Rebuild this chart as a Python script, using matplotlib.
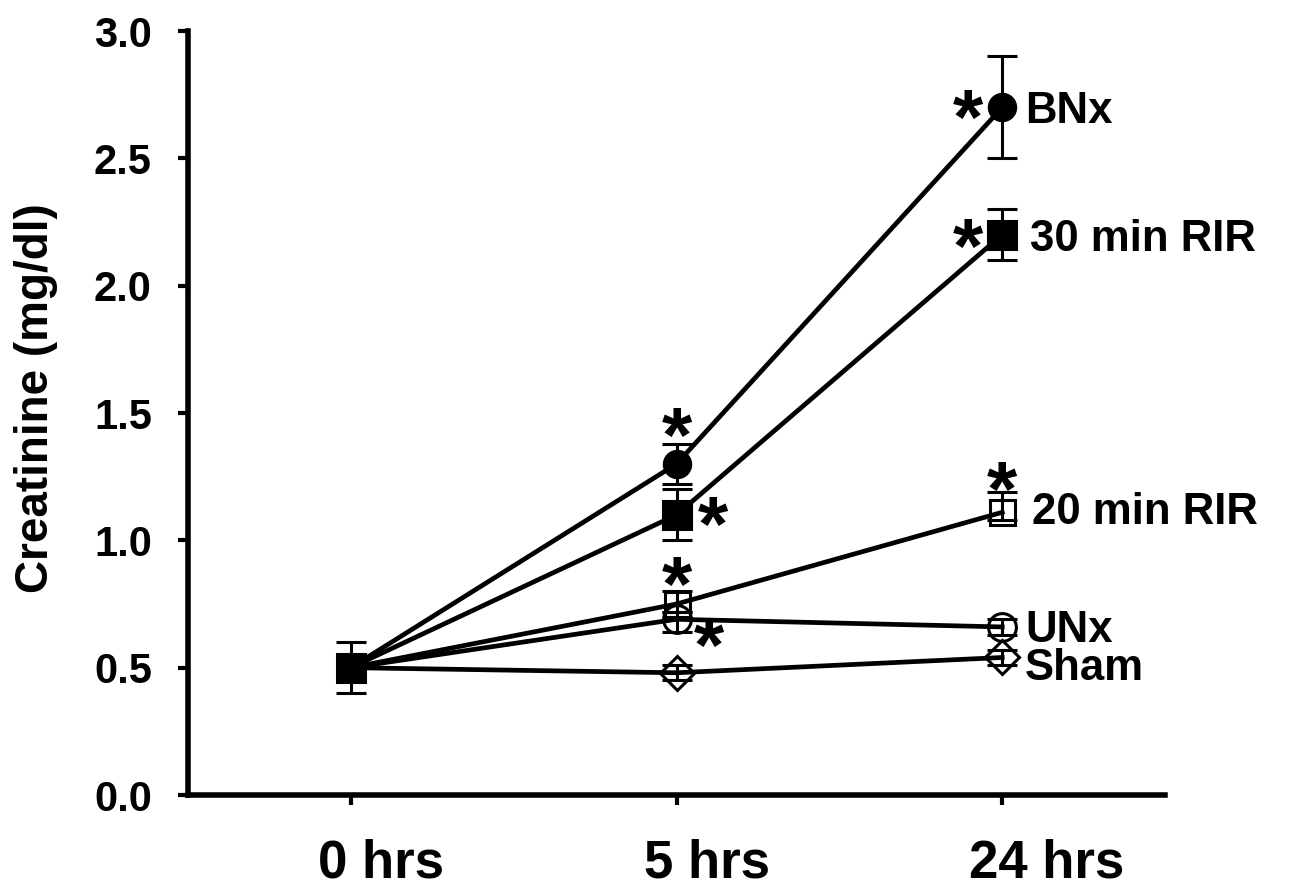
import matplotlib
matplotlib.use("Agg")
import matplotlib.pyplot as plt
from matplotlib.transforms import ScaledTranslation

plt.rcParams["font.family"] = ["Liberation Sans", "DejaVu Sans"]
plt.rcParams["font.weight"] = "bold"

# time points and tick labels
times = [0, 1, 2]
time_labels = ["0 hrs", "5 hrs", "24 hrs"]

# creatinine (mg/dl) per group
bnx = [0.5, 1.3, 2.7]
bnx_err = [0.05, 0.08, 0.2]
rir30 = [0.5, 1.1, 2.2]
rir30_err = [0.1, 0.1, 0.1]
rir20 = [0.5, 0.75, 1.11]
rir20_lo = [0.05, 0.03, 0.03]
rir20_hi = [0.05, 0.05, 0.08]
unx = [0.5, 0.69, 0.66]
unx_lo = [0.05, 0.05, 0.03]
unx_hi = [0.05, 0.03, 0.03]
sham = [0.5, 0.48, 0.54]
sham_err = [0.03, 0.03, 0.03]

fig = plt.figure(figsize=(13.07, 8.86), dpi=100)
ax = fig.add_axes([0.1438, 0.1027, 0.7476, 0.8623])

common = dict(color="black", lw=3.4, ecolor="black", elinewidth=2.2,
              capsize=11, capthick=2.2, mew=2.2)
# at 0 hrs every group sits under the 30 min RIR square
later = [1, 2]

ax.errorbar(times, sham, yerr=sham_err, marker="D", ms=17, mfc="none",
            markevery=later, **common)
ax.errorbar(times, unx, yerr=[unx_lo, unx_hi], marker="o", ms=20, mfc="none",
            markevery=later, **common)
ax.errorbar(times, rir20, yerr=[rir20_lo, rir20_hi], marker="s", ms=18, mfc="none",
            markevery=later, **common)
ax.errorbar(times, bnx, yerr=bnx_err, marker="o", ms=19, mfc="black",
            markevery=later, **common)
ax.errorbar(times, rir30, yerr=rir30_err, marker="s", ms=19.5, mfc="black", **common)

# series labels at the 24 h end
labels = [("BNx", bnx, 16.5, 0), ("30 min RIR", rir30, 20, 0),
          ("20 min RIR", rir20, 21.5, 3), ("UNx", unx, 16.5, 0.5),
          ("Sham", sham, 16.5, -4.5)]
for text, ys, dx, dy in labels:
    ax.annotate(text, (times[2], ys[2]), xytext=(dx, dy), textcoords="offset points",
                ha="left", va="center_baseline", fontsize=31.5, fontweight="bold")

# significance stars (offsets in points of the star centre)
STAR_FS = 56


def star(x, y, dx, dy):
    ax.annotate("*", (x, y), xytext=(dx, dy - 0.47 * STAR_FS), textcoords="offset points",
                ha="center", va="baseline", fontsize=STAR_FS, fontweight="bold")


star(times[2], bnx[2], -25, 0)
star(times[2], rir30[2], -25, -1)
star(times[1], bnx[1], 0, 28)
star(times[1], rir30[1], 26, 0)
star(times[1], rir20[1], 0, 21)
star(times[1], unx[1], 23, -11.5)
star(times[2], rir20[2], 0, 24)

ax.set_xlim(-0.5, 2.5)
ax.set_ylim(0, 3.0)
ax.set_xticks(times)
ax.set_xticklabels(time_labels)
ax.set_yticks([0, 0.5, 1.0, 1.5, 2.0, 2.5, 3.0])
ax.set_yticklabels(["0.0", "0.5", "1.0", "1.5", "2.0", "2.5", "3.0"])
ax.tick_params(axis="y", direction="out", length=7, width=3, labelsize=30, pad=19)
ax.tick_params(axis="x", direction="out", length=7, width=3, labelsize=38, pad=24)
shift = ScaledTranslation(-33 / 100, 0, fig.dpi_scale_trans)
for lab in ax.get_xticklabels():
    lab.set_horizontalalignment("left")
    lab.set_transform(lab.get_transform() + shift)
for lab in ax.get_xticklabels() + ax.get_yticklabels():
    lab.set_fontweight("bold")

for side in ("top", "right"):
    ax.spines[side].set_visible(False)
for side in ("left", "bottom"):
    ax.spines[side].set_linewidth(4)

ax.set_ylabel("Creatinine (mg/dl)", fontsize=33, fontweight="bold")
ax.yaxis.set_label_coords(-0.133, 0.52)

fig.savefig("out.png", dpi=100)
